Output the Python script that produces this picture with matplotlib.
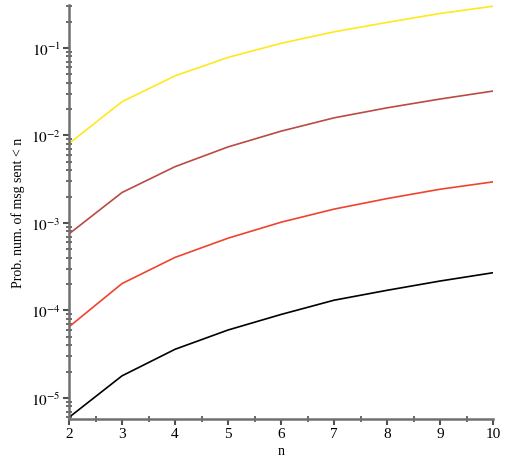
import numpy as np
import matplotlib
matplotlib.use('Agg')
import matplotlib.pyplot as plt
from matplotlib.ticker import LogLocator, FixedLocator, NullFormatter

plt.rcParams['font.family'] = ['Liberation Serif', 'DejaVu Serif']
plt.rcParams['mathtext.fontset'] = 'stix'

# valores
n = [2, 3, 4, 5, 6, 7, 8, 9, 10]
prob_amarilla = [0.0081, 0.0243, 0.048, 0.078, 0.113, 0.153, 0.196, 0.248, 0.30]
prob_granate = [7.5e-4, 2.23e-3, 4.4e-3, 7.4e-3, 0.0112, 0.0159, 0.0207, 0.0261, 0.0322]
prob_roja = [6.5e-5, 2.03e-4, 4.04e-4, 6.7e-4, 1.02e-3, 1.44e-3, 1.9e-3, 2.43e-3, 2.95e-3]
prob_negra = [6.0e-6, 1.79e-5, 3.6e-5, 5.98e-5, 9.0e-5, 1.31e-4, 1.70e-4, 2.17e-4, 2.7e-4]

fig = plt.figure(figsize=(5.16, 4.60), dpi=100)
ax = fig.add_axes([69 / 516, 1 - 420 / 460, (493 - 69) / 516, (420 - 6) / 460])

ax.plot(n, prob_amarilla, color='#FFE81E', lw=1.2)
ax.plot(n, prob_granate, color='#BA4A45', lw=1.2)
ax.plot(n, prob_roja, color='#F0432F', lw=1.2)
ax.plot(n, prob_negra, color='black', lw=1.2)

ax.set_yscale('log')
ax.set_xlim(2, 10)
ax.set_ylim(5.75e-6, 0.31)

for lado in ['top', 'right']:
    ax.spines[lado].set_visible(False)
for lado in ['left', 'bottom']:
    ax.spines[lado].set_color('#707070')
    ax.spines[lado].set_linewidth(1.8)

ax.set_xticks(n)
ax.xaxis.set_minor_locator(FixedLocator(np.arange(2.5, 10, 1.0)))
ax.yaxis.set_major_locator(LogLocator(base=10, numticks=10))
ax.yaxis.set_minor_locator(LogLocator(base=10, subs=np.arange(2, 10), numticks=20))
ax.yaxis.set_minor_formatter(NullFormatter())
ax.set_yticks([1e-5, 1e-4, 1e-3, 1e-2, 1e-1])
ax.set_yticklabels([r'$10^{-5}$', r'$10^{-4}$', r'$10^{-3}$', r'$10^{-2}$', r'$10^{-1}$'])

ax.tick_params(which='major', direction='out', length=4, width=1.5, color='#505050',
               labelsize=11, pad=2)
ax.tick_params(which='minor', direction='inout', length=4, width=1.2, color='#505050')

ax.set_xlabel('n', fontsize=10, labelpad=3)
ax.set_ylabel('Prob. num. of msg sent < n', fontsize=10, labelpad=4)

fig.savefig('out.png', dpi=100)
